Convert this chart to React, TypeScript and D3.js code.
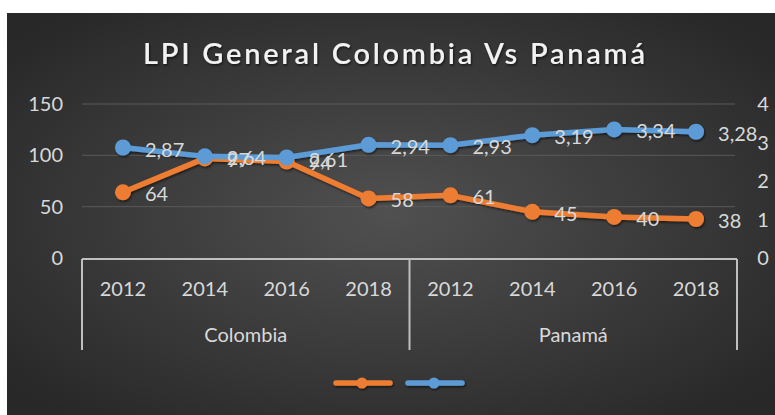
import React from "react";
import * as d3 from "d3";

const title = "LPI General Colombia Vs Panamá";
const countries = ["Colombia", "Panamá"];
const years = ["2012", "2014", "2016", "2018"];
const rankValues = [64, 97, 94, 58, 61, 45, 40, 38];
const scoreValues = [2.87, 2.64, 2.61, 2.94, 2.93, 3.19, 3.34, 3.28];
const leftTicks = [0, 50, 100, 150];
const rightTicks = [0, 1, 2, 3, 4];

const W = 775;
const H = 415;
const FONT = "Lato, 'Open Sans', sans-serif";

export default function App() {
  const cats = countries.flatMap((c) => years.map((y) => `${c}-${y}`));
  const x = d3.scaleBand<string>().domain(cats).range([82, 737]);
  const xc = (i: number) => (x(cats[i]) as number) + x.bandwidth() / 2;
  const yL = d3.scaleLinear().domain([0, 150]).range([258, 104]);
  const yR = d3.scaleLinear().domain([0, 4]).range([258, 104]);

  const lineL = d3.line<number>().x((_, i) => xc(i)).y((d) => yL(d));
  const lineR = d3.line<number>().x((_, i) => xc(i)).y((d) => yR(d));

  const orange = "#ED7D31";
  const blue = "#5B9BD5";
  const labelColor = "#d9d9d9";
  const fmt = (v: number) => String(v).replace(".", ",");
  const fmtR = (v: number) => v.toFixed(2).replace(".", ",");

  const groupX = countries.map((_, gi) => {
    const a = x(cats[gi * 4]) as number;
    const b = (x(cats[gi * 4 + 3]) as number) + x.bandwidth();
    return [a, b];
  });

  return (
    <svg
      width={W}
      height={H}
      style={{ position: "fixed", left: 0, top: 0, background: "#fff" }}
    >
      <defs>
        <radialGradient id="bg" cx="0.5" cy="0.5" r="0.65">
          <stop offset="0" stopColor="#505050" />
          <stop offset="1" stopColor="#282828" />
        </radialGradient>
        <filter id="sh" x="-20%" y="-20%" width="140%" height="140%">
          <feDropShadow dx="1" dy="1.5" stdDeviation="1.2" floodColor="#000" floodOpacity="0.6" />
        </filter>
      </defs>
      <rect x={7} y={13} width={W - 7} height={H - 13} fill="url(#bg)" />

      <text
        x={394}
        y={64}
        textAnchor="middle"
        fill="#f2f2f2"
        fontFamily={FONT}
        fontWeight={600}
        fontSize={29}
        textLength={502}
        lengthAdjust="spacing"
        filter="url(#sh)"
      >
        {title}
      </text>

      {leftTicks.filter((t) => t > 0).map((t) => (
        <line key={t} x1={82} x2={735} y1={yL(t)} y2={yL(t)} stroke="#5a5a5a" strokeWidth={1} />
      ))}

      {leftTicks.map((t) => (
        <text key={t} x={63} y={yL(t) + 7} textAnchor="end" fill={labelColor} fontFamily={FONT} fontSize={20}>
          {t}
        </text>
      ))}
      {rightTicks.map((t) => (
        <text key={t} x={763} y={yR(t) + 7} textAnchor="middle" fill={labelColor} fontFamily={FONT} fontSize={20}>
          {t}
        </text>
      ))}

      <line x1={82} x2={737} y1={259} y2={259} stroke="#bfbfbf" strokeWidth={2} />
      {[groupX[0][0], groupX[0][1], groupX[1][1]].map((v, i) => (
        <line key={i} x1={v} x2={v} y1={259} y2={350} stroke="#bfbfbf" strokeWidth={2} />
      ))}
      {cats.map((c, i) => (
        <text key={c} x={xc(i)} y={296} textAnchor="middle" fill={labelColor} fontFamily={FONT} fontSize={20}>
          {years[i % 4]}
        </text>
      ))}
      {countries.map((c, gi) => (
        <text
          key={c}
          x={(groupX[gi][0] + groupX[gi][1]) / 2}
          y={342}
          textAnchor="middle"
          fill={labelColor}
          fontFamily={FONT}
          fontSize={20}
        >
          {c}
        </text>
      ))}

      <g filter="url(#sh)">
        <path d={lineL(rankValues) as string} fill="none" stroke={orange} strokeWidth={5.5} strokeLinejoin="round" />
        {rankValues.map((v, i) => (
          <circle key={i} cx={xc(i)} cy={yL(v)} r={8} fill={orange} />
        ))}
        <path d={lineR(scoreValues) as string} fill="none" stroke={blue} strokeWidth={5.5} strokeLinejoin="round" />
        {scoreValues.map((v, i) => (
          <circle key={i} cx={xc(i)} cy={yR(v)} r={8} fill={blue} />
        ))}
      </g>

      {rankValues.map((v, i) => (
        <text key={i} x={xc(i) + 22} y={yL(v) + 9} fill={labelColor} fontFamily={FONT} fontSize={20}>
          {fmt(v)}
        </text>
      ))}
      {scoreValues.map((v, i) => (
        <text key={i} x={xc(i) + 22} y={yR(v) + 9} fill={labelColor} fontFamily={FONT} fontSize={20}>
          {fmtR(v)}
        </text>
      ))}

      <g filter="url(#sh)">
        <line x1={336} x2={390} y1={383} y2={383} stroke={orange} strokeWidth={5.5} strokeLinecap="round" />
        <circle cx={362} cy={383} r={5.5} fill={orange} />
        <line x1={408} x2={462} y1={383} y2={383} stroke={blue} strokeWidth={5.5} strokeLinecap="round" />
        <circle cx={434} cy={383} r={5.5} fill={blue} />
      </g>
    </svg>
  );
}
